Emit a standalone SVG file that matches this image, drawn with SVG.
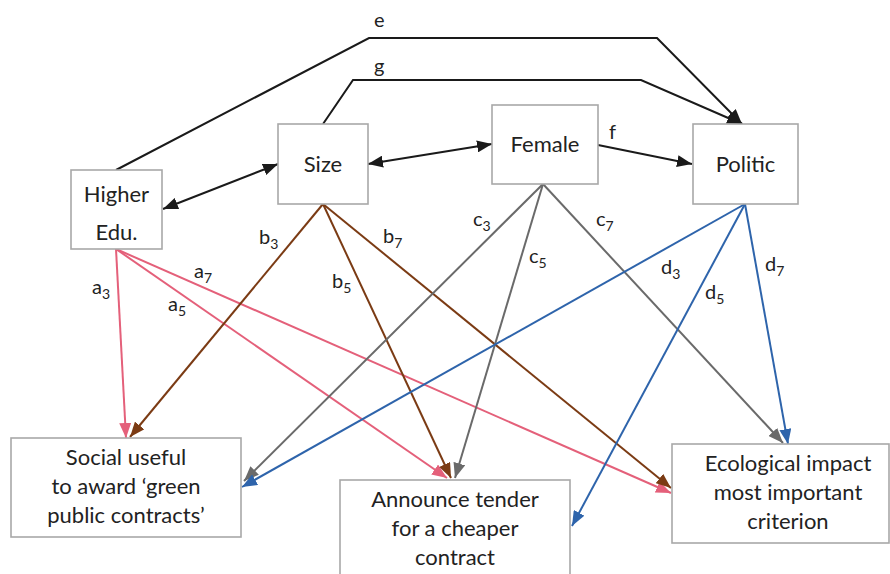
<svg xmlns="http://www.w3.org/2000/svg" width="890" height="574" viewBox="0 0 890 574">
<defs>
<marker id="mk" markerUnits="userSpaceOnUse" markerWidth="16" markerHeight="12" refX="15" refY="6" orient="auto-start-reverse"><path d="M0,0 L15,6 L0,12 z" fill="#1a1a1a"/></marker>
<marker id="mp" markerUnits="userSpaceOnUse" markerWidth="16" markerHeight="12" refX="15" refY="6" orient="auto"><path d="M0,0 L15,6 L0,12 z" fill="#e4607a"/></marker>
<marker id="mb" markerUnits="userSpaceOnUse" markerWidth="16" markerHeight="12" refX="15" refY="6" orient="auto"><path d="M0,0 L15,6 L0,12 z" fill="#7b3b14"/></marker>
<marker id="mg" markerUnits="userSpaceOnUse" markerWidth="16" markerHeight="12" refX="15" refY="6" orient="auto"><path d="M0,0 L15,6 L0,12 z" fill="#6a6a6a"/></marker>
<marker id="ml" markerUnits="userSpaceOnUse" markerWidth="16" markerHeight="12" refX="15" refY="6" orient="auto"><path d="M0,0 L15,6 L0,12 z" fill="#2e64ab"/></marker>
</defs>
<style>
.box{fill:#fff;stroke:#a8a8a8;stroke-width:1.6}
.t{font-family:Lato,"Open Sans","Liberation Sans",sans-serif;font-size:22px;fill:#222;text-anchor:middle}
.l{font-family:Lato,"Open Sans","Liberation Sans",sans-serif;font-size:20px;fill:#222}
.s{font-size:14px}
.k{stroke:#1a1a1a;stroke-width:2;fill:none}
.p{stroke:#e4607a;stroke-width:2;fill:none;marker-end:url(#mp)}
.b{stroke:#7b3b14;stroke-width:2;fill:none;marker-end:url(#mb)}
.g{stroke:#6a6a6a;stroke-width:2;fill:none;marker-end:url(#mg)}
.u{stroke:#2e64ab;stroke-width:2;fill:none;marker-end:url(#ml)}
</style>
<rect width="890" height="574" fill="#fff"/>
<g id="connectors">
<polyline class="k" points="116,170 369,38 657,38 742,124" marker-end="url(#mk)"/>
<polyline class="k" points="323,124 353,80 641,80 742,124" marker-end="url(#mk)"/>
<line class="k" x1="163" y1="209" x2="278" y2="164" marker-start="url(#mk)" marker-end="url(#mk)"/>
<line class="k" x1="368" y1="164" x2="492" y2="144" marker-start="url(#mk)" marker-end="url(#mk)"/>
<line class="k" x1="598" y1="145" x2="692" y2="164" marker-end="url(#mk)"/>
<line class="p" x1="116" y1="249" x2="126" y2="438"/>
<line class="p" x1="116" y1="249" x2="447" y2="478"/>
<line class="p" x1="116" y1="249" x2="671" y2="493"/>
<line class="b" x1="323" y1="204" x2="130" y2="437"/>
<line class="b" x1="323" y1="204" x2="451" y2="478"/>
<line class="b" x1="323" y1="204" x2="671" y2="488"/>
<line class="g" x1="543" y1="184" x2="244" y2="481"/>
<line class="g" x1="543" y1="184" x2="455" y2="478"/>
<line class="g" x1="543" y1="184" x2="783" y2="443"/>
<line class="u" x1="745" y1="204" x2="242" y2="487"/>
<line class="u" x1="745" y1="204" x2="572" y2="526"/>
<line class="u" x1="745" y1="204" x2="788" y2="444"/>
</g>
<g id="labels">
<text class="l" x="374" y="27">e</text>
<text class="l" x="374" y="73">g</text>
<text class="l" x="609" y="139">f</text>
<text class="l" x="92" y="294">a<tspan class="s" dy="5">3</tspan></text>
<text class="l" x="194" y="278">a<tspan class="s" dy="5">7</tspan></text>
<text class="l" x="168" y="311">a<tspan class="s" dy="5">5</tspan></text>
<text class="l" x="259" y="244">b<tspan class="s" dy="5">3</tspan></text>
<text class="l" x="332" y="288">b<tspan class="s" dy="5">5</tspan></text>
<text class="l" x="383" y="243">b<tspan class="s" dy="5">7</tspan></text>
<text class="l" x="473" y="226">c<tspan class="s" dy="5">3</tspan></text>
<text class="l" x="529" y="263">c<tspan class="s" dy="5">5</tspan></text>
<text class="l" x="596" y="226">c<tspan class="s" dy="5">7</tspan></text>
<text class="l" x="661" y="274">d<tspan class="s" dy="5">3</tspan></text>
<text class="l" x="705" y="299">d<tspan class="s" dy="5">5</tspan></text>
<text class="l" x="765" y="271">d<tspan class="s" dy="5">7</tspan></text>
</g>
<g id="higher-edu"><rect class="box" x="71" y="170" width="91" height="79"/><text class="t" x="116.5" y="202">Higher</text><text class="t" x="116.5" y="240">Edu.</text></g>
<g id="size"><rect class="box" x="278" y="124" width="90" height="80"/><text class="t" x="323" y="172">Size</text></g>
<g id="female"><rect class="box" x="492" y="105" width="106" height="79"/><text class="t" x="545" y="152">Female</text></g>
<g id="politic"><rect class="box" x="693" y="124" width="105" height="80"/><text class="t" x="745.5" y="172">Politic</text></g>
<g id="social"><rect class="box" x="11" y="438" width="230" height="99"/><text class="t" x="126" y="465">Social useful</text><text class="t" x="126" y="494">to award ‘green</text><text class="t" x="126" y="523">public contracts’</text></g>
<g id="announce"><rect class="box" x="340" y="480" width="230" height="110"/><text class="t" x="455" y="507">Announce tender</text><text class="t" x="455" y="536">for a cheaper</text><text class="t" x="455" y="565">contract</text></g>
<g id="ecological"><rect class="box" x="672" y="444" width="217" height="99"/><text class="t" x="788" y="471">Ecological impact</text><text class="t" x="788" y="500">most important</text><text class="t" x="788" y="529">criterion</text></g>
</svg>
